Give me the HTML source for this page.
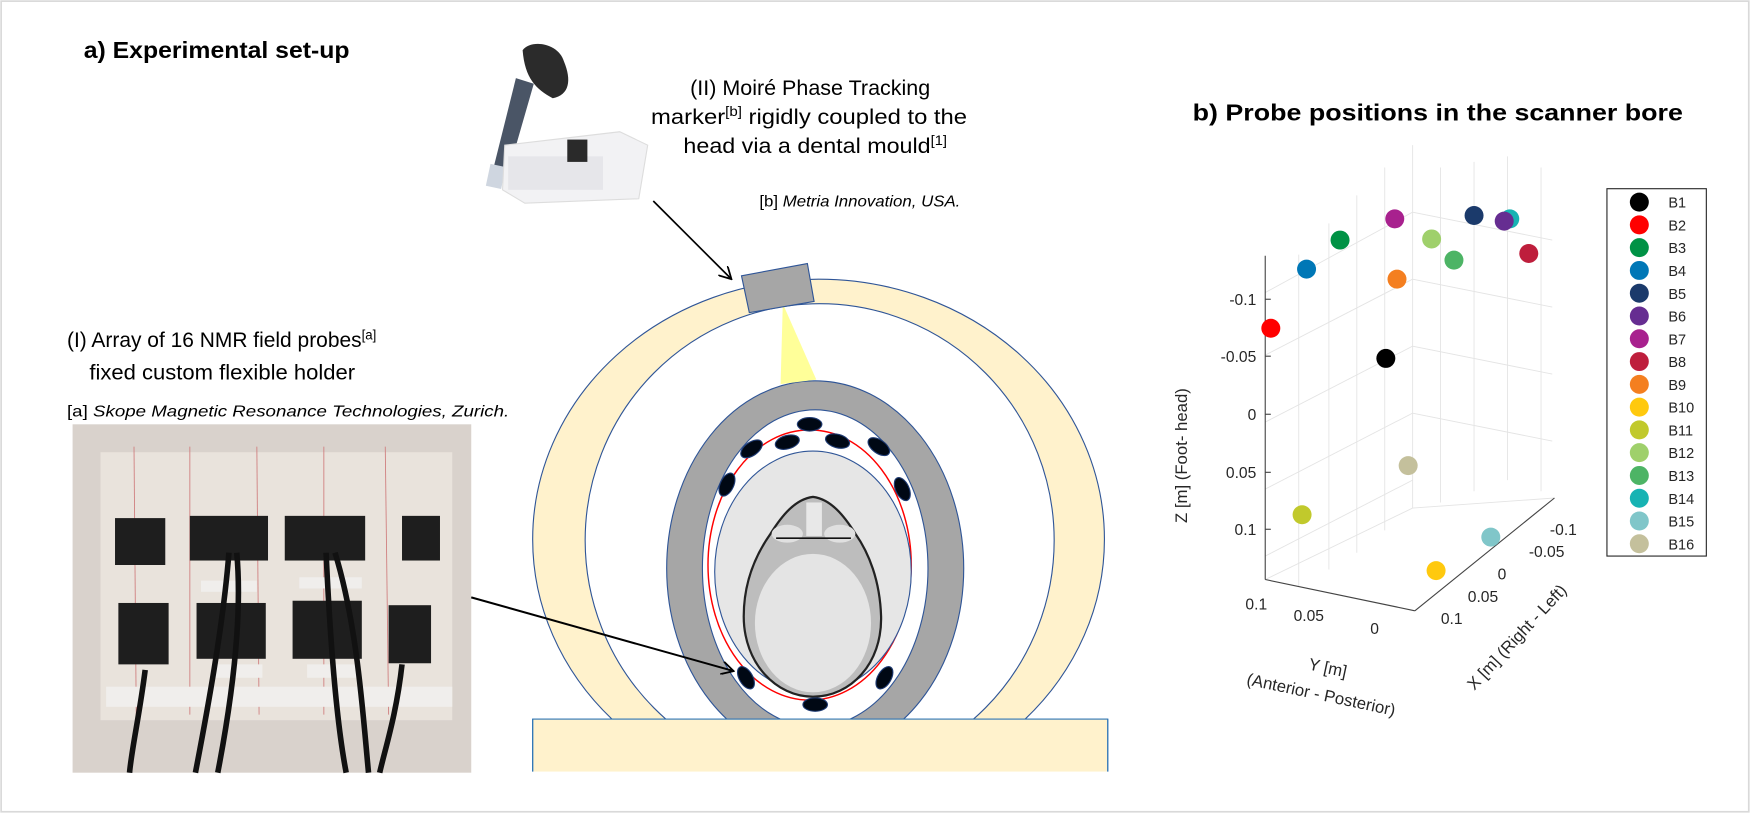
<!DOCTYPE html>
<html><head><meta charset="utf-8"><style>html,body{margin:0;padding:0;background:#fff}svg{display:block}</style></head>
<body>
<svg width="1751" height="814" viewBox="0 0 1568 729" preserveAspectRatio="none" xmlns="http://www.w3.org/2000/svg" font-family="Liberation Sans, sans-serif">
<rect x="1" y="1" width="1565" height="726" fill="#fff" stroke="#d9d9d9" stroke-width="1.5"/>
<defs>
<marker id="ah" markerWidth="12" markerHeight="12" refX="11" refY="6" orient="auto" markerUnits="userSpaceOnUse"><path d="M0,0 L11,6 L0,12" fill="none" stroke="#000" stroke-width="1.6"/></marker>
<clipPath id="scan"><rect x="400" y="200" width="650" height="444"/></clipPath>
</defs>
<!-- titles -->
<text x="75" y="52" font-size="21" font-weight="bold" textLength="238" lengthAdjust="spacingAndGlyphs">a) Experimental set-up</text>
<text x="1068" y="108" font-size="21" font-weight="bold" textLength="439" lengthAdjust="spacingAndGlyphs">b) Probe positions in the scanner bore</text>
<!-- marker photo -->
<g>
<path d="M468,45 C475,35 500,38 505,55 C512,72 510,85 495,88 C480,80 470,70 468,45Z" fill="#2b2b2b"/>
<path d="M462,70 L478,75 L455,155 L442,150Z" fill="#4a5566"/>
<rect x="437" y="148" width="14" height="20" fill="#cfd6e0" transform="rotate(12 444 158)"/>
<path d="M452,130 L555,118 L580,130 L572,178 L470,182 L450,170Z" fill="#f2f2f4" stroke="#ddd"/>
<rect x="455" y="140" width="85" height="30" fill="#e6e6ea"/>
<rect x="508" y="125" width="18" height="20" fill="#2a2a2a"/>
</g>
<text x="618" y="85" font-size="19" textLength="215" lengthAdjust="spacingAndGlyphs">(II) Moiré Phase Tracking</text>
<text x="583" y="111" font-size="19" textLength="283" lengthAdjust="spacingAndGlyphs">marker<tspan font-size="12" dy="-7">[b]</tspan><tspan dy="7"> rigidly coupled to the</tspan></text>
<text x="612" y="137" font-size="19" textLength="236" lengthAdjust="spacingAndGlyphs">head via a dental mould<tspan font-size="12" dy="-7">[1]</tspan></text>
<text x="680" y="185" font-size="14" textLength="180" lengthAdjust="spacingAndGlyphs">[b] <tspan font-style="italic">Metria Innovation, USA.</tspan></text>
<text x="60" y="311" font-size="19" textLength="277" lengthAdjust="spacingAndGlyphs">(I) Array of 16 NMR field probes<tspan font-size="12" dy="-7">[a]</tspan></text>
<text x="80" y="340" font-size="19" textLength="238" lengthAdjust="spacingAndGlyphs">fixed custom flexible holder</text>
<text x="60" y="373" font-size="14" textLength="396" lengthAdjust="spacingAndGlyphs">[a] <tspan font-style="italic">Skope Magnetic Resonance Technologies, Zurich.</tspan></text>
<!-- probe photo -->
<g>
<rect x="65" y="380" width="357" height="312" fill="#d9d2cc"/>
<rect x="90" y="405" width="315" height="240" fill="#e9e3dc"/>
<g stroke="#d08080" stroke-width="0.8"><line x1="120" y1="400" x2="122" y2="640"/><line x1="170" y1="400" x2="170" y2="640"/><line x1="230" y1="400" x2="232" y2="640"/><line x1="290" y1="400" x2="290" y2="640"/><line x1="345" y1="400" x2="348" y2="640"/></g>
<g fill="#1e1e1e"><rect x="103" y="464" width="45" height="42"/><rect x="170" y="462" width="70" height="40"/><rect x="255" y="462" width="72" height="40"/><rect x="360" y="462" width="34" height="40"/>
<rect x="106" y="540" width="45" height="55"/><rect x="176" y="540" width="62" height="50"/><rect x="262" y="538" width="62" height="52"/><rect x="348" y="542" width="38" height="52"/></g>
<g fill="#f0eeec"><rect x="180" y="520" width="50" height="10"/><rect x="268" y="517" width="56" height="10"/><rect x="95" y="615" width="310" height="18"/><rect x="190" y="595" width="45" height="12"/><rect x="275" y="595" width="45" height="12"/></g>
<g fill="none" stroke="#111" stroke-width="5"><path d="M130,600 C125,640 118,670 116,692"/><path d="M205,495 C200,560 185,640 175,692"/><path d="M212,495 C218,560 205,640 195,692"/><path d="M292,495 C295,560 300,640 310,692"/><path d="M300,495 C320,560 325,640 330,692"/><path d="M360,595 C355,640 345,670 340,692"/></g>
</g>
<!-- scanner -->
<g clip-path="url(#scan)">
<ellipse cx="733" cy="483" rx="256" ry="233" fill="#fff2cc" stroke="#2f5597" stroke-width="1"/>
<ellipse cx="734" cy="484" rx="210" ry="212" fill="#fff" stroke="#2f5597" stroke-width="1"/>
<ellipse cx="730" cy="509" rx="133" ry="168" fill="#a6a6a6" stroke="#2f5597" stroke-width="1"/>
<ellipse cx="730" cy="509" rx="101" ry="142" fill="#fff" stroke="#2f5597" stroke-width="1"/>
<ellipse cx="725" cy="506" rx="91" ry="121" fill="none" stroke="#ff0000" stroke-width="1.3"/>
<ellipse cx="728" cy="512" rx="88" ry="108" fill="#e6e6e6" stroke="#2f5597" stroke-width="1"/>
</g>
<!-- head -->
<path d="M728,445 C712,447 700,462 690,478 C678,495 666,520 666,552 C666,594 695,624 728,624 C762,624 790,594 789,552 C788,520 778,495 766,478 C756,462 744,447 728,445Z" fill="#bdbdbd" stroke="#222" stroke-width="2"/>
<ellipse cx="728" cy="558" rx="52" ry="62" fill="#e4e4e4"/>
<rect x="722" y="450" width="14" height="30" fill="#e8e8e8"/>
<ellipse cx="705" cy="478" rx="14" ry="8" fill="#e0e0e0"/><ellipse cx="752" cy="478" rx="14" ry="8" fill="#e0e0e0"/>
<line x1="695" y1="482" x2="762" y2="482" stroke="#111" stroke-width="1.5"/>
<!-- probes -->
<g fill="#000814" stroke="#1f3b73" stroke-width="1">
<ellipse cx="725" cy="380" rx="11" ry="6"/>
<ellipse cx="705" cy="396" rx="11" ry="6" transform="rotate(-15 705 396)"/>
<ellipse cx="750" cy="395" rx="11" ry="6" transform="rotate(15 750 395)"/>
<ellipse cx="673" cy="402" rx="11" ry="6" transform="rotate(-35 673 402)"/>
<ellipse cx="787" cy="400" rx="11" ry="6" transform="rotate(35 787 400)"/>
<ellipse cx="651" cy="434" rx="11" ry="6" transform="rotate(-65 651 434)"/>
<ellipse cx="808" cy="438" rx="11" ry="6" transform="rotate(65 808 438)"/>
<ellipse cx="668" cy="607" rx="11" ry="6" transform="rotate(60 668 607)"/>
<ellipse cx="792" cy="607" rx="11" ry="6" transform="rotate(-60 792 607)"/>
<ellipse cx="730" cy="631" rx="11" ry="6"/>
</g>
<polygon points="701,272 699,344 731,340" fill="#ffff99"/>
<polygon points="664,247 723,236 729,270 671,280" fill="#a6a6a6" stroke="#2f5597" stroke-width="1"/>
<rect x="477" y="644" width="515" height="60" fill="#fff2cc" stroke="#2e75b6" stroke-width="1"/>
<rect x="470" y="691" width="530" height="30" fill="#fff"/>
<line x1="477" y1="644" x2="477" y2="691" stroke="#2e75b6"/><line x1="992" y1="644" x2="992" y2="691" stroke="#2e75b6"/>
<line x1="585" y1="180" x2="655" y2="250" stroke="#000" stroke-width="1.5" marker-end="url(#ah)"/>
<line x1="422" y1="535" x2="657" y2="601" stroke="#000" stroke-width="1.8" marker-end="url(#ah)"/>
<!-- plot grid -->
<g stroke="#e4e4e4" stroke-width="0.8">
<line x1="1163" y1="228" x2="1163" y2="525"/><line x1="1190" y1="200" x2="1190" y2="510"/><line x1="1215" y1="175" x2="1215" y2="495"/><line x1="1240" y1="150" x2="1240" y2="475"/><line x1="1265" y1="130" x2="1265" y2="455"/>
<line x1="1290" y1="150" x2="1290" y2="450"/><line x1="1320" y1="145" x2="1320" y2="440"/><line x1="1350" y1="140" x2="1350" y2="430"/><line x1="1380" y1="150" x2="1380" y2="440"/>
<line x1="1265" y1="190" x2="1390" y2="215"/><line x1="1265" y1="250" x2="1390" y2="275"/><line x1="1265" y1="310" x2="1390" y2="335"/><line x1="1265" y1="370" x2="1390" y2="395"/>
<line x1="1133" y1="262" x2="1265" y2="190"/><line x1="1133" y1="318" x2="1265" y2="250"/><line x1="1133" y1="378" x2="1265" y2="310"/><line x1="1133" y1="438" x2="1265" y2="370"/><line x1="1133" y1="498" x2="1265" y2="430"/>
<line x1="1133" y1="519" x2="1265" y2="455"/><line x1="1265" y1="455" x2="1392" y2="446"/>
</g>
<g stroke="#444" stroke-width="1" fill="none">
<line x1="1133" y1="229" x2="1133" y2="519"/>
<line x1="1133" y1="519" x2="1267" y2="547"/>
<line x1="1267" y1="547" x2="1392" y2="446"/>
<line x1="1133" y1="268" x2="1138" y2="268"/><line x1="1133" y1="319" x2="1138" y2="319"/><line x1="1133" y1="371" x2="1138" y2="371"/><line x1="1133" y1="423" x2="1138" y2="423"/><line x1="1133" y1="474" x2="1138" y2="474"/>
</g>
<g font-size="14" fill="#262626" text-anchor="end">
<text x="1125" y="273">-0.1</text><text x="1125" y="324">-0.05</text><text x="1125" y="376">0</text><text x="1125" y="428">0.05</text><text x="1125" y="479">0.1</text>
</g>
<g font-size="14" fill="#262626" text-anchor="middle">
<text x="1125" y="546">0.1</text><text x="1172" y="556">0.05</text><text x="1231" y="568">0</text>
<text x="1400" y="479">-0.1</text><text x="1385" y="499">-0.05</text><text x="1345" y="519">0</text><text x="1328" y="539">0.05</text><text x="1300" y="559">0.1</text>
</g>
<text transform="translate(1063 408) rotate(-90)" font-size="15" fill="#262626" text-anchor="middle">Z [m] (Foot- head)</text>
<text transform="translate(1362 574) rotate(-47)" font-size="15" fill="#262626" text-anchor="middle">X [m] (Right - Left)</text>
<text transform="translate(1188 603) rotate(12)" font-size="15" fill="#262626" text-anchor="middle">Y [m]</text>
<text transform="translate(1182 627) rotate(12)" font-size="15" fill="#262626" text-anchor="middle">(Anterior - Posterior)</text>
<!-- dots -->
<g>
<circle cx="1241" cy="321" r="8.5" fill="#000"/>
<circle cx="1138" cy="294" r="8.5" fill="#ff0000"/>
<circle cx="1200" cy="215" r="8.5" fill="#009245"/>
<circle cx="1170" cy="241" r="8.5" fill="#0077b6"/>
<circle cx="1320" cy="193" r="8.5" fill="#1b3a6b"/>
<circle cx="1352" cy="196" r="8.5" fill="#17b3b3"/>
<circle cx="1347" cy="198" r="8.5" fill="#662d91"/>
<circle cx="1249" cy="196" r="8.5" fill="#a8218e"/>
<circle cx="1369" cy="227" r="8.5" fill="#be1e3c"/>
<circle cx="1251" cy="250" r="8.5" fill="#f47f20"/>
<circle cx="1286" cy="511" r="8.5" fill="#ffc90e"/>
<circle cx="1166" cy="461" r="8.5" fill="#c1c92c"/>
<circle cx="1282" cy="214" r="8.5" fill="#9fd06b"/>
<circle cx="1302" cy="233" r="8.5" fill="#4db465"/>
<circle cx="1335" cy="481" r="8.5" fill="#80c6c9"/>
<circle cx="1261" cy="417" r="8.5" fill="#c4c09c"/>
</g>
<!-- legend -->
<rect x="1439" y="169" width="89" height="329" fill="#fff" stroke="#262626" stroke-width="1"/>
<g font-size="13" fill="#262626">
<circle cx="1468" cy="181" r="8.5" fill="#000"/><text x="1494" y="186">B1</text>
<circle cx="1468" cy="201.4" r="8.5" fill="#ff0000"/><text x="1494" y="206.4">B2</text>
<circle cx="1468" cy="221.8" r="8.5" fill="#009245"/><text x="1494" y="226.8">B3</text>
<circle cx="1468" cy="242.2" r="8.5" fill="#0077b6"/><text x="1494" y="247.2">B4</text>
<circle cx="1468" cy="262.6" r="8.5" fill="#1b3a6b"/><text x="1494" y="267.6">B5</text>
<circle cx="1468" cy="283" r="8.5" fill="#662d91"/><text x="1494" y="288">B6</text>
<circle cx="1468" cy="303.4" r="8.5" fill="#a8218e"/><text x="1494" y="308.4">B7</text>
<circle cx="1468" cy="323.8" r="8.5" fill="#be1e3c"/><text x="1494" y="328.8">B8</text>
<circle cx="1468" cy="344.2" r="8.5" fill="#f47f20"/><text x="1494" y="349.2">B9</text>
<circle cx="1468" cy="364.6" r="8.5" fill="#ffc90e"/><text x="1494" y="369.6">B10</text>
<circle cx="1468" cy="385" r="8.5" fill="#c1c92c"/><text x="1494" y="390">B11</text>
<circle cx="1468" cy="405.4" r="8.5" fill="#9fd06b"/><text x="1494" y="410.4">B12</text>
<circle cx="1468" cy="425.8" r="8.5" fill="#4db465"/><text x="1494" y="430.8">B13</text>
<circle cx="1468" cy="446.2" r="8.5" fill="#17b3b3"/><text x="1494" y="451.2">B14</text>
<circle cx="1468" cy="466.6" r="8.5" fill="#80c6c9"/><text x="1494" y="471.6">B15</text>
<circle cx="1468" cy="487" r="8.5" fill="#c4c09c"/><text x="1494" y="492">B16</text>
</g>
</svg>
</body></html>
